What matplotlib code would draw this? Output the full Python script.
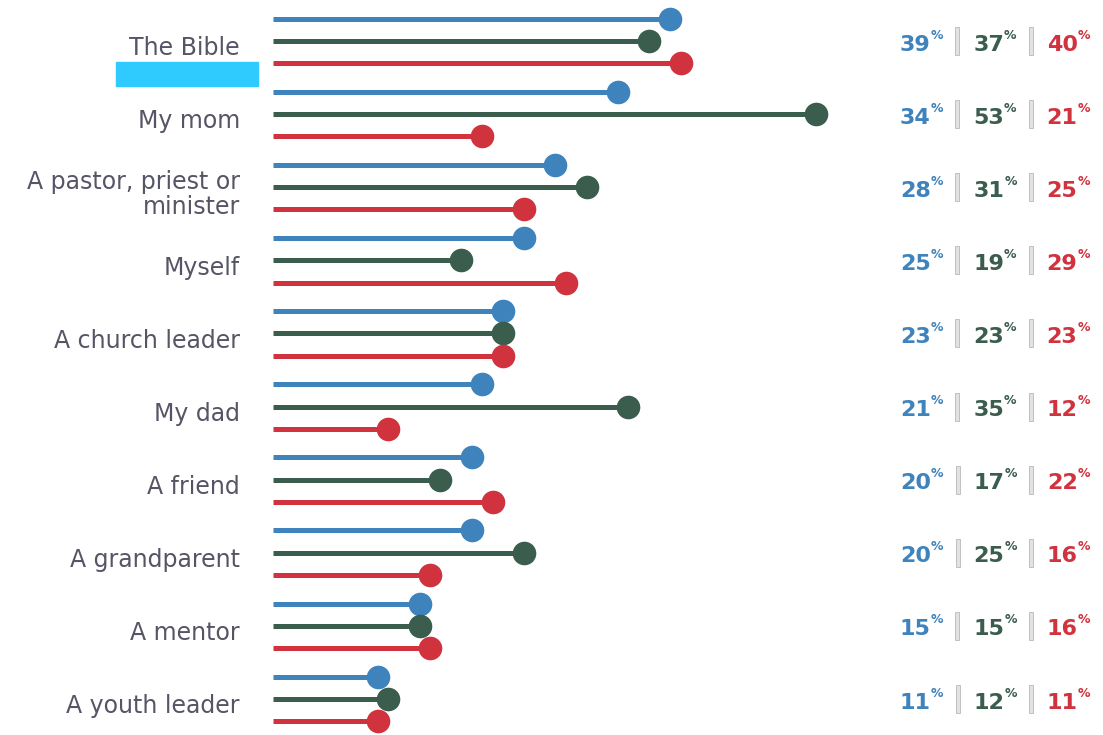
import matplotlib
matplotlib.use('Agg')
import matplotlib.pyplot as plt
from matplotlib.patches import Rectangle
from matplotlib.transforms import blended_transform_factory

# who young people trust most, three groups per source
sources = ['The Bible', 'My mom', 'A pastor, priest or\nminister', 'Myself',
           'A church leader', 'My dad', 'A friend', 'A grandparent',
           'A mentor', 'A youth leader']
blue_vals = [39, 34, 28, 25, 23, 21, 20, 20, 15, 11]
green_vals = [37, 53, 31, 19, 23, 35, 17, 25, 15, 12]
red_vals = [40, 21, 25, 29, 23, 12, 22, 16, 16, 11]

colors = ['#3f83bd', '#3a5d4d', '#d1333e']
label_color = '#555566'

W, H = 1103, 735
fig = plt.figure(figsize=(W / 100, H / 100), dpi=100)
ax = fig.add_axes([0, 0, 1, 1])
px_per_pct = 10.44
zero_px = 263
ax.set_xlim(-zero_px / px_per_pct, (W - zero_px) / px_per_pct)
row_h = 73.1
top = 41
ax.set_ylim((H - top) / row_h, -top / row_h)
ax.axis('off')

offsets = [-0.305, 0, 0.305]
series = [blue_vals, green_vals, red_vals]
line_start = 1
for s, (vals, off) in enumerate(zip(series, offsets)):
    for i, v in enumerate(vals):
        y = i + off
        ax.plot([line_start, v], [y, y], color=colors[s], lw=3.6,
                solid_capstyle='butt', zorder=2 + s)
        ax.plot(v, y, 'o', color=colors[s], ms=17, mec='none', zorder=2 + s)

# category labels
fig_x = blended_transform_factory(fig.transFigure, ax.transData)
for i, name in enumerate(sources):
    ax.text(240 / W, i + 0.1, name, transform=fig_x, ha='right', va='center',
            fontsize=17, color=label_color, linespacing=1.05)

# highlight block under the first label
fig.patches.append(Rectangle((116 / W, 1 - 86 / H), 142 / W, 24 / H,
                             transform=fig.transFigure, color='#2fcbfe',
                             zorder=1))

# value readout on the right: number, small %, separator bar
fig.canvas.draw()
r = fig.canvas.get_renderer()
for i in range(len(sources)):
    x = 900
    for s in range(3):
        t = ax.text(x / W, i + 0.05, str(series[s][i]), transform=fig_x,
                    ha='left', va='center', fontsize=16, fontweight='bold',
                    color=colors[s])
        w = t.get_window_extent(r).width
        x += w
        p = ax.text(x / W, i - 0.08, '%', transform=fig_x, ha='left',
                    va='center', fontsize=9, fontweight='bold',
                    color=colors[s])
        x += p.get_window_extent(r).width
        if s < 2:
            x += 12
            sep_y = ax.transData.transform((0, i))[1]
            fig.patches.append(Rectangle(((x) / W, (sep_y - 14) / H),
                                         4 / W, 28 / H,
                                         transform=fig.transFigure,
                                         facecolor='#e2e2e2',
                                         edgecolor='#b9b9b9', lw=0.6))
            x += 4 + 14

fig.savefig('out.png', dpi=100, facecolor='white')
